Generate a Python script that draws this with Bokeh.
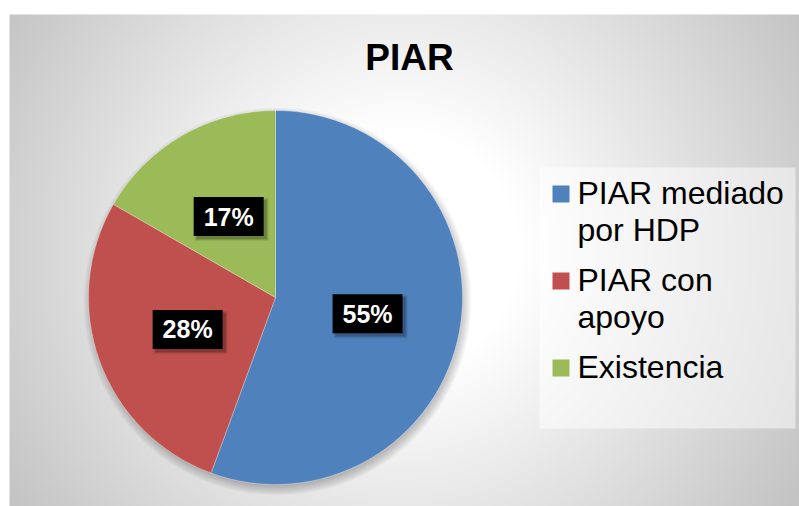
import numpy as np
import textwrap
from bokeh.plotting import figure
from bokeh.models import Range1d, ColumnDataSource
from bokeh.core.properties import value
from bokeh.embed import file_html
from bokeh.resources import INLINE

# ---- data ----
title_text = "PIAR"
categories = ["PIAR mediado por HDP", "PIAR con apoyo", "Existencia"]
shares = [55.6, 27.7, 16.7]              # slice sizes
pct_labels = ["55%", "28%", "17%"]       # data labels as printed
colors = ["#4F81BD", "#C0504D", "#9BBB59"]

W, H = 799, 506
FONT = "Liberation Sans"

p = figure(width=W, height=H, x_range=Range1d(0, W), y_range=Range1d(0, H),
           output_backend="svg", toolbar_location=None, min_border=0)
p.axis.visible = False
p.xgrid.visible = False
p.ygrid.visible = False
p.outline_line_color = None
p.background_fill_color = "white"
p.border_fill_color = "white"


def px(x):
    return x


def py(y):
    return H - y


# ---- background radial gradient ----
bw, bh = 790, 492
xs = np.arange(bw) + 9 + 0.5
ys = 506 - (np.arange(bh) + 0.5)
X, Y = np.meshgrid(xs, ys)
d = np.hypot(X - 400, Y - 250)
t = np.clip((d - 120) / 350.0, 0, 1)
g = (255 - 60 * t).astype(np.uint32)
img = (np.uint32(255) << 24) | (g << 16) | (g << 8) | g
p.image_rgba(image=[img], x=9, y=0, dw=bw, dh=bh)

# ---- pie ----
cx, cy, r = px(275), py(297), 187
for k in range(10):
    p.circle(x=cx + 2, y=cy - 4, radius=r + 7 - k, fill_color="black",
             fill_alpha=0.025, line_color=None)

frac = np.array(shares, dtype=float) / sum(shares)
cum = np.concatenate([[0.0], np.cumsum(frac)])
start = np.pi / 2 - 2 * np.pi * cum[:-1]
end = np.pi / 2 - 2 * np.pi * cum[1:]
mid = (start + end) / 2
lx = cx + 0.5 * r * np.cos(mid)
ly = cy + 0.5 * r * np.sin(mid)

src = ColumnDataSource(dict(start=start, end=end, color=colors, cat=categories,
                            lx=lx, ly=ly, lab=pct_labels,
                            sx=lx + 3, sy=ly - 3))
p.wedge(x=cx, y=cy, radius=r, start_angle="start", end_angle="end",
        direction="clock", fill_color="color", line_color="white",
        line_width=0.6, line_alpha=0.5, source=src)

# label boxes with soft shadow
for k, a in [(0, 0.15), (1, 0.12), (2, 0.08)]:
    p.rect(x="sx", y="sy", width=70 + 2 * k, height=39 + 2 * k,
           fill_color="black", fill_alpha=a, line_color=None, source=src)
p.rect(x="lx", y="ly", width=70, height=39, fill_color="black",
       line_color=None, source=src)
p.text(x="lx", y="ly", text="lab", text_color="white", text_font=value(FONT),
       text_font_size="25px", text_font_style="bold", text_align="center",
       text_baseline="middle", source=src)

# ---- title ----
p.text(x=[px(409)], y=[py(57)], text=[title_text], text_font=value(FONT),
       text_font_size="37px", text_font_style="bold", text_color="black",
       text_align="center", text_baseline="middle")

# ---- legend ----
p.quad(left=[px(539)], right=[px(795)], bottom=[py(428)], top=[py(167)],
       fill_color="white", fill_alpha=0.5, line_color=None)
line_h = 37
gap = 13
base = 203
for cat, col in zip(categories, colors):
    lines = textwrap.wrap(cat, width=12)
    p.rect(x=[px(560.5)], y=[py(base - 9.5)], width=17, height=17,
           fill_color=col, line_color=None)
    for i, ln in enumerate(lines):
        p.text(x=[px(577)], y=[py(base + i * line_h - 11)], text=[ln],
               text_font=value(FONT), text_font_size="32px",
               text_color="black", text_align="left",
               text_baseline="middle")
    base += len(lines) * line_h + gap

open("out.html", "w").write(file_html(p, INLINE))
